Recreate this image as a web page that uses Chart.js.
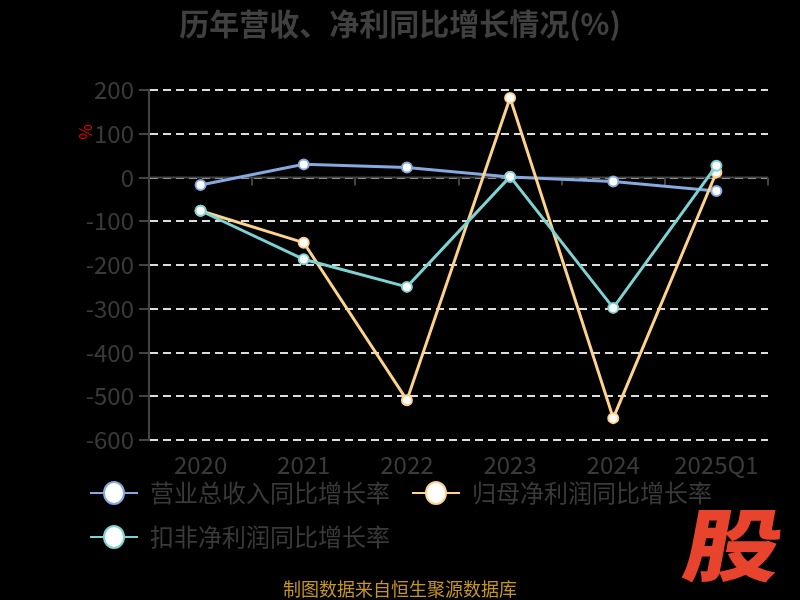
<!DOCTYPE html>
<html>
<head>
<meta charset="utf-8">
<script src="https://cdn.jsdelivr.net/npm/chart.js@4/dist/chart.umd.min.js"></script>
<style>
  html, body { margin: 0; padding: 0; background: #000; }
  #wrap { width: 800px; height: 600px; }
</style>
</head>
<body>
<div id="wrap"><canvas id="growthChart" width="800" height="600"></canvas></div>
<script>
// Year-over-year growth (%) by period
const categories = ['2020', '2021', '2022', '2023', '2024', '2025Q1'];
const revenueGrowth = [-17, 30, 23, 1, -9, -31];          // 营业总收入同比增长率
const parentProfitGrowth = [-76, -149, -509, 182, -550, 12]; // 归母净利润同比增长率
const deductedProfitGrowth = [-76, -187, -250, 2, -298, 27]; // 扣非净利润同比增长率
const yTicks = [200, 100, 0, -100, -200, -300, -400, -500, -600];
const seriesNames = ['营业总收入同比增长率', '归母净利润同比增长率', '扣非净利润同比增长率'];
const seriesColors = ['#86a9df', '#fdd28c', '#7dd3d4'];

const titleText = '历年营收、净利同比增长情况(%)';
const footerText = '制图数据来自恒生聚源数据库';
const unitText = '%';
const logoText = '股';

const FONT = '"Noto Sans CJK SC", "Noto Sans", sans-serif';
const TEXT_GRAY = '#3a3a3a';
const AXIS_GRAY = '#444444';

function lineDataset(label, data, color, order) {
  return {
    label: label,
    data: data,
    borderColor: color,
    backgroundColor: color,
    borderWidth: 3,
    pointRadius: 5,
    pointHoverRadius: 5,
    pointBorderWidth: 2,
    pointBackgroundColor: '#ffffff',
    pointBorderColor: color,
    tension: 0,
    fill: false,
    order: order
  };
}

// Axis line through zero with category boundary ticks
const zeroAxisPlugin = {
  id: 'zeroAxis',
  beforeDatasetsDraw(chart) {
    const { ctx, chartArea, scales } = chart;
    const y = scales.y.getPixelForValue(0);
    const xs = scales.x;
    ctx.save();
    ctx.strokeStyle = AXIS_GRAY;
    ctx.lineWidth = 2;
    ctx.beginPath();
    ctx.moveTo(chartArea.left, y);
    ctx.lineTo(chartArea.right, y);
    ctx.stroke();
    const n = categories.length;
    ctx.beginPath();
    for (let i = 0; i <= n; i++) {
      const bx = i === 0 ? chartArea.left : (i === n ? chartArea.right : (xs.getPixelForValue(i - 1) + xs.getPixelForValue(i)) / 2);
      ctx.moveTo(Math.round(bx), y);
      ctx.lineTo(Math.round(bx), y + 8);
    }
    ctx.stroke();
    ctx.restore();
  }
};

// Title, unit label, legend, footer and logo
const decorPlugin = {
  id: 'decor',
  afterDraw(chart) {
    const { ctx } = chart;
    ctx.save();

    // title
    ctx.fillStyle = '#404040';
    ctx.font = 'bold 30px ' + FONT;
    ctx.textAlign = 'center';
    ctx.textBaseline = 'middle';
    ctx.fillText(titleText, 400, 24);

    // y unit
    ctx.save();
    ctx.translate(86, 132);
    ctx.rotate(-Math.PI / 2);
    ctx.fillStyle = '#e00000';
    ctx.font = '17px ' + FONT;
    ctx.textAlign = 'center';
    ctx.textBaseline = 'middle';
    ctx.fillText(unitText, 0, 0);
    ctx.restore();

    // legend
    ctx.font = '24px ' + FONT;
    ctx.textAlign = 'left';
    ctx.textBaseline = 'middle';
    const startX = 90, rowH = 44, maxRight = 780, gap = 22;
    let lx = startX, ly = 493;
    chart.data.datasets.forEach((ds) => {
      const tw = ctx.measureText(ds.label).width;
      const w = 60 + tw;
      if (lx + w > maxRight && lx > startX) { lx = startX; ly += rowH; }
      ctx.strokeStyle = ds.borderColor;
      ctx.lineWidth = 2;
      ctx.beginPath();
      ctx.moveTo(lx, ly);
      ctx.lineTo(lx + 48, ly);
      ctx.stroke();
      ctx.beginPath();
      ctx.ellipse(lx + 24, ly, 10, 11, 0, 0, Math.PI * 2);
      ctx.fillStyle = '#ffffff';
      ctx.fill();
      ctx.lineWidth = 2;
      ctx.stroke();
      ctx.fillStyle = TEXT_GRAY;
      ctx.fillText(ds.label, lx + 60, ly);
      lx += w + gap;
    });

    // footer
    ctx.fillStyle = '#c8961e';
    ctx.font = '18px ' + FONT;
    ctx.textAlign = 'center';
    ctx.fillText(footerText, 400, 589);

    // logo
    ctx.save();
    ctx.translate(734, 545);
    ctx.transform(1.05, 0, -0.16, 0.86, 0, 0);
    ctx.fillStyle = '#e8432d';
    ctx.font = '900 92px ' + FONT;
    ctx.textAlign = 'center';
    ctx.textBaseline = 'middle';
    ctx.fillText(logoText, 0, 0);
    ctx.restore();

    ctx.restore();
  }
};

new Chart(document.getElementById('growthChart'), {
  type: 'line',
  data: {
    labels: categories,
    datasets: [
      lineDataset(seriesNames[0], revenueGrowth, seriesColors[0], 2),
      lineDataset(seriesNames[1], parentProfitGrowth, seriesColors[1], 1),
      lineDataset(seriesNames[2], deductedProfitGrowth, seriesColors[2], 0)
    ]
  },
  options: {
    responsive: false,
    devicePixelRatio: 1,
    animation: false,
    layout: { padding: { top: 90, right: 32, bottom: 115, left: 0 } },
    plugins: {
      legend: { display: false },
      title: { display: false },
      tooltip: { enabled: false }
    },
    scales: {
      x: {
        type: 'category',
        offset: true,
        grid: { display: false, drawTicks: false },
        border: { display: false },
        ticks: {
          color: TEXT_GRAY,
          font: { family: FONT, size: 24 },
          padding: 10,
          maxRotation: 0,
          autoSkip: false
        },
        afterFit(scale) { scale.height = 45; }
      },
      y: {
        min: yTicks[yTicks.length - 1],
        max: yTicks[0],
        afterBuildTicks(scale) { scale.ticks = yTicks.map(v => ({ value: v })); },
        grid: {
          color: '#dddddd',
          lineWidth: 2,
          drawTicks: true,
          tickLength: 10,
          tickColor: AXIS_GRAY,
          tickWidth: 2
        },
        border: { display: true, color: AXIS_GRAY, width: 2, dash: [8, 5] },
        ticks: {
          color: TEXT_GRAY,
          font: { family: FONT, size: 24 },
          padding: 5
        },
        afterFit(scale) { scale.width = 149; }
      }
    }
  },
  plugins: [zeroAxisPlugin, decorPlugin]
});
</script>
</body>
</html>
